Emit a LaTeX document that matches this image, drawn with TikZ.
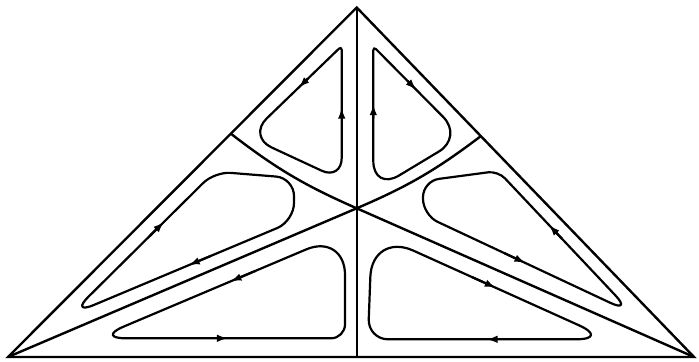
\documentclass[tikz,border=0pt]{standalone}
\usetikzlibrary{arrows.meta, calc}
\tikzset{
  side/.style={line width=1.2pt},
  cell/.style={line width=1.1pt, line join=round},
  flow/.style={line width=1.1pt, -{Latex[length=5.5pt,width=3.8pt]}}
}
\begin{document}
\begin{tikzpicture}[x=0.5pt, y=-0.5pt]
\useasboundingbox (0,0) rectangle (699,362);
\coordinate (A) at (8,357);
\coordinate (B) at (694,357);
\coordinate (C) at (356.7,7.5);
\coordinate (O) at (356.7,208.3);
\coordinate (D) at (356.7,357);
\coordinate (L) at ($(A)!0.639!(C)$);
\coordinate (R) at ($(B)!0.632!(C)$);
\draw[side] (A) -- (B) -- (C) -- cycle;
\draw[side] (C) -- (D);
\draw[side] (A) -- (O);
\draw[side] (B) -- (O);
\draw[side] (L) to[bend right=7] (O) to[bend right=7] (R);

\coordinate (tl1) at (341.7,46);
\coordinate (tl2) at (341.7,180);
\coordinate (tl3) at (248,136.5);
\draw[cell] ($(tl3)!.5!(tl1)$) [rounded corners=2pt] -- (tl1)
  [rounded corners=11pt] -- (tl2) [rounded corners=13pt] -- (tl3) -- cycle;
\draw[flow] ($(tl2)!.44!(tl1)$) -- ($(tl2)!.54!(tl1)$);
\draw[flow] ($(tl1)!.36!(tl3)$) -- ($(tl1)!.46!(tl3)$);

\coordinate (tr1) at (373.3,46.4);
\coordinate (tr2) at (463,137);
\coordinate (tr3) at (373.3,191);
\draw[cell] ($(tr3)!.5!(tr1)$) [rounded corners=2pt] -- (tr1)
  [rounded corners=14pt] -- (tr2) [rounded corners=15pt] -- (tr3) -- cycle;
\draw[flow] ($(tr3)!.5!(tr1)$) -- ($(tr3)!.6!(tr1)$);
\draw[flow] ($(tr1)!.38!(tr2)$) -- ($(tr1)!.48!(tr2)$);

\coordinate (ml1) at (70,315);
\coordinate (ml2) at (214.7,171.6);
\coordinate (ml3) at (294,178);
\coordinate (ml4) at (294,221);
\draw[cell] ($(ml4)!.5!(ml1)$) [rounded corners=13pt] -- (ml1)
  [rounded corners=8pt] -- (ml2) [rounded corners=9pt] -- (ml3)
  [rounded corners=9pt] -- (ml4) -- cycle;
\draw[flow] ($(ml1)!.55!(ml2)$) -- ($(ml1)!.65!(ml2)$);
\draw[flow] ($(ml4)!.37!(ml1)$) -- ($(ml4)!.47!(ml1)$);

\coordinate (mr1) at (632,313);
\coordinate (mr2) at (498,171);
\coordinate (mr3) at (423,181);
\coordinate (mr4) at (423,215);
\draw[cell] ($(mr4)!.5!(mr1)$) [rounded corners=12pt] -- (mr1)
  [rounded corners=5pt] -- (mr2) [rounded corners=8pt] -- (mr3)
  [rounded corners=8pt] -- (mr4) -- cycle;
\draw[flow] ($(mr1)!.52!(mr2)$) -- ($(mr1)!.62!(mr2)$);
\draw[flow] ($(mr4)!.39!(mr1)$) -- ($(mr4)!.49!(mr1)$);

\coordinate (bl1) at (96,338.3);
\coordinate (bl2) at (345,233);
\coordinate (bl3) at (345,338.3);
\draw[cell] ($(bl3)!.5!(bl1)$) [rounded corners=15pt] -- (bl1)
  [rounded corners=21pt] -- (bl2) [rounded corners=7pt] -- (bl3) -- cycle;
\draw[flow] ($(bl2)!.36!(bl1)$) -- ($(bl2)!.46!(bl1)$);
\draw[flow] ($(bl1)!.43!(bl3)$) -- ($(bl1)!.53!(bl3)$);

\coordinate (br1) at (610,339.3);
\coordinate (br2) at (372,232);
\coordinate (br3) at (368,339.3);
\draw[cell] ($(br3)!.5!(br1)$) [rounded corners=17pt] -- (br1)
  [rounded corners=22.5pt] -- (br2) [rounded corners=10pt] -- (br3) -- cycle;
\draw[flow] ($(br2)!.42!(br1)$) -- ($(br2)!.52!(br1)$);
\draw[flow] ($(br1)!.41!(br3)$) -- ($(br1)!.51!(br3)$);
\end{tikzpicture}
\end{document}
